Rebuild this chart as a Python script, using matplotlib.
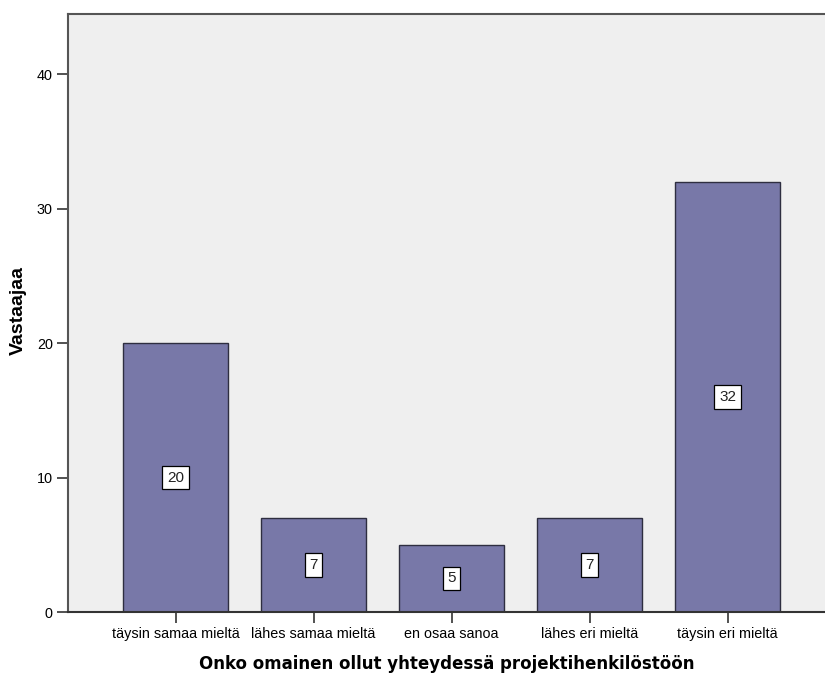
import numpy as np
import matplotlib
matplotlib.use('Agg')
import matplotlib.pyplot as plt

# Data
categories = ['täysin samaa mieltä', 'lähes samaa mieltä', 'en osaa sanoa',
              'lähes eri mieltä', 'täysin eri mieltä']
counts = [20, 7, 5, 7, 32]
yticks = [0, 10, 20, 30, 40]

fig = plt.figure(figsize=(8.25, 6.73), dpi=100)
ax = fig.add_axes([68 / 825, 61 / 673, 1 - 68 / 825, (612 - 14) / 673])
ax.set_facecolor('#efefef')

x = np.arange(len(categories))
bars = ax.bar(x, counts, width=0.76, color='#7878a8', edgecolor='#2e2e40', linewidth=1.0)

# value labels in white boxes at the middle of each bar
for xi, v in zip(x, counts):
    ax.text(xi, v / 2, str(v), ha='center', va='center', fontsize=11,
            family='Liberation Sans', color='#222222',
            bbox=dict(boxstyle='square,pad=0.3', fc='white', ec='black', lw=0.9))

ax.set_xlim(-0.779, 4.706)
ax.set_ylim(0, 44.5)
ax.set_xticks(x)
ax.set_xticklabels(categories, family='Liberation Sans', fontsize=10.4)
ax.set_yticks(yticks)
ax.set_yticklabels([str(t) for t in yticks], family='Liberation Sans', fontsize=10.4)
ax.tick_params(axis='both', direction='out', length=8, width=1.2, color='#333333', pad=3)

for s in ['left', 'bottom', 'top']:
    ax.spines[s].set_color('#555555')
    ax.spines[s].set_linewidth(1.5)
ax.spines['bottom'].set_color('#333333')
ax.spines['right'].set_visible(False)

ax.set_ylabel('Vastaajaa', family='Liberation Sans', fontweight='bold', fontsize=14)
ax.yaxis.set_label_coords(-0.054, 0.505)
ax.set_xlabel('Onko omainen ollut yhteydessä projektihenkilöstöön', family='DejaVu Sans',
              fontweight='bold', fontsize=12, labelpad=10)

fig.savefig('out.png', dpi=100)
